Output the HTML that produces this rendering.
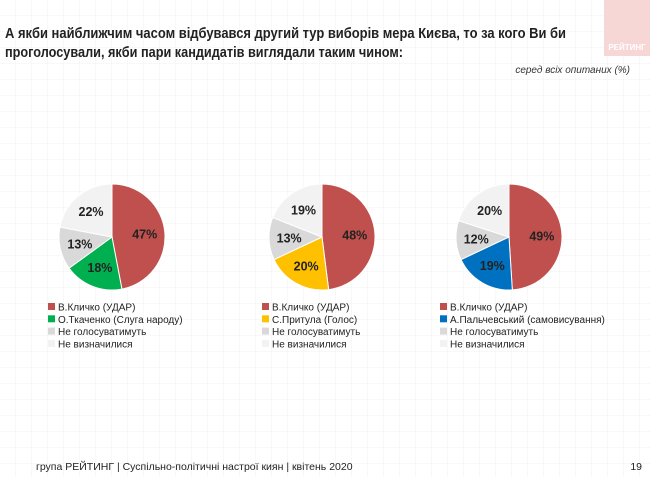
<!DOCTYPE html>
<html><head><meta charset="utf-8"><style>
body{margin:0;width:650px;height:476px;overflow:hidden;background:#fff;font-family:"Liberation Sans",Arial,sans-serif}
</style></head><body>
<svg width="650" height="476" xmlns="http://www.w3.org/2000/svg" font-family="Liberation Sans, Arial, sans-serif">
<defs><pattern id="g" width="16" height="16" patternUnits="userSpaceOnUse"><path d="M16 0V16H0" fill="none" stroke="#f1f1f1" stroke-width="1"/></pattern></defs>
<rect width="650" height="476" fill="url(#g)"/>
<rect x="604" y="0" width="46" height="56" fill="#f7d6d6"/>
<text x="627" y="50" font-size="8" font-weight="bold" fill="#fff" text-anchor="middle">РЕЙТИНГ</text>
<text x="5" y="38" font-size="14.5" font-weight="bold" fill="#222" textLength="561" lengthAdjust="spacingAndGlyphs">А якби найближчим часом відбувався другий тур виборів мера Києва, то за кого Ви би</text>
<text x="5" y="57" font-size="14.5" font-weight="bold" fill="#222" textLength="398" lengthAdjust="spacingAndGlyphs">проголосували, якби пари кандидатів виглядали таким чином:</text>
<text x="630" y="73" font-size="10" font-style="italic" fill="#333" text-anchor="end">серед всіх опитаних (%)</text>
<g id="pies"></g>
<text x="36" y="470" font-size="10.5" fill="#222">група РЕЙТИНГ | Суспільно-політичні настрої киян | квітень  2020</text>
<text x="642" y="470" font-size="10.5" fill="#222" text-anchor="end">19</text>
</svg>
<script>
var data=[
 {cx:112,c:"#00b050",v:[47,18,13,22],n:"О.Ткаченко (Слуга народу)",lx:48},
 {cx:322,c:"#ffc000",v:[48,20,13,19],n:"С.Притула (Голос)",lx:262},
 {cx:509,c:"#0070c0",v:[49,19,12,20],n:"А.Пальчевський (самовисування)",lx:440}];
var ns="http://www.w3.org/2000/svg",G=document.getElementById("pies");
function el(t,a,txt){var e=document.createElementNS(ns,t);for(var k in a)e.setAttribute(k,a[k]);if(txt)e.textContent=txt;G.appendChild(e);return e;}
data.forEach(function(d){
 var cy=237,r=53,cols=["#c0504d",d.c,"#d9d9d9","#f2f2f2"],a=0;
 d.v.forEach(function(v,i){
  var a0=a,a1=a+v/100*2*Math.PI;a=a1;
  var x0=d.cx+r*Math.sin(a0),y0=cy-r*Math.cos(a0),x1=d.cx+r*Math.sin(a1),y1=cy-r*Math.cos(a1);
  el("path",{d:"M"+d.cx+" "+cy+"L"+x0+" "+y0+"A"+r+" "+r+" 0 "+(a1-a0>Math.PI?1:0)+" 1 "+x1+" "+y1+"Z",fill:cols[i],stroke:"#fff","stroke-width":1});
  var m=(a0+a1)/2,rr=r*0.62;
  el("text",{x:d.cx+rr*Math.sin(m),y:cy-rr*Math.cos(m)+4.5,"font-size":12.5,"font-weight":"bold",fill:"#222","text-anchor":"middle"},v+"%");
 });
 var names=["В.Кличко (УДАР)",d.n,"Не голосуватимуть","Не визначилися"];
 names.forEach(function(n,i){
  var y=307+i*12.3;
  el("rect",{x:d.lx,y:y-4,width:7,height:7,fill:cols[i]});
  el("text",{x:d.lx+10,y:y+3.5,"font-size":10,fill:"#222"},n);
 });
});
</script>
</body></html>
